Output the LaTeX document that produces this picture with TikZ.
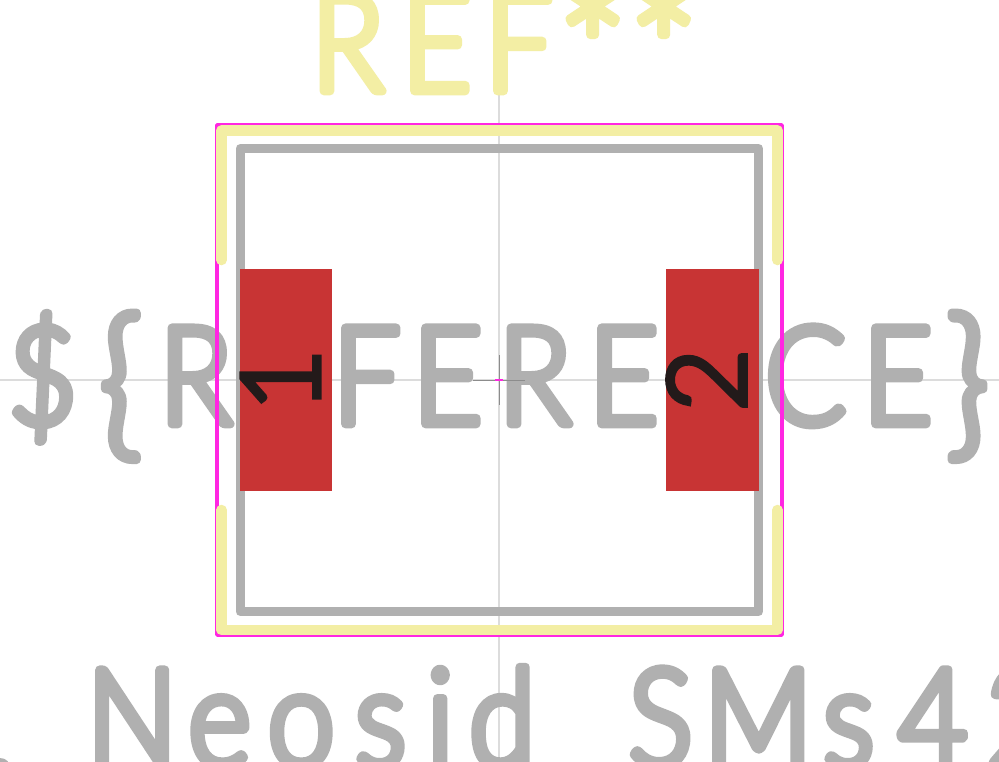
\documentclass[tikz,border=0pt]{standalone}
\usepackage{fontspec}
\newfontfamily\kfont[UprightFont=* Light,FakeStretch=0.88]{Lato}
\newfontfamily\pfont[UprightFont=* Light]{Lato}
\definecolor{fabgray}{HTML}{B0B0B0}
\definecolor{silk}{HTML}{F3EEA4}
\definecolor{court}{HTML}{FF26E2}
\definecolor{padred}{HTML}{C83434}
\definecolor{numblack}{HTML}{231A1A}
\definecolor{hair}{HTML}{DCDCDC}
\newcommand\strk[1]{\special{pdf:literal direct 1 J 1 j #1 w 2 Tr}}
\newcommand\strkb[1]{\special{pdf:literal direct 0 J 0 j #1 w 2 Tr}}
\newcommand\gl[2]{\rlap{\kern#1pt\hbox to 0pt{\hss#2\hss}}}
\newcommand\bigch[3]{\raisebox{#2pt}{\fontsize{#1}{#1}\selectfont #3}}
\tikzset{
  strokeText/.style={inner sep=0pt,anchor=base west,font=\kfont\fontsize{136}{136}\selectfont},
  pad/.style={fill=padred,draw=none,inner sep=0pt,minimum width=92.5pt,minimum height=222pt},
  padnum/.style={inner sep=0pt,text=numblack,rotate=90,font=\pfont\fontsize{108}{108}\selectfont},
  silkline/.style={draw=silk,line width=10.5pt,line cap=round,line join=round},
  fabline/.style={draw=fabgray,line width=9pt,line join=round},
  courtline/.style={draw=court,line width=3.5pt,line join=round},
  hairline/.style={draw=hair,line width=1.3pt}
}
\begin{document}
\begin{tikzpicture}[x=1pt,y=-1pt]
\clip (0,0) rectangle (999,761);
\fill[white] (0,0) rectangle (999,761);
\coordinate (vt) at (499,0); \coordinate (vb) at (499,761);
\coordinate (hl) at (0,380); \coordinate (hr) at (999,380);
\draw[hairline] (vt) -- (vb);
\draw[hairline] (hl) -- (hr);
\node[strokeText,text=fabgray] (value) at (0,424) {\strk{8.6}\gl{42}{\$}\gl{120}{\bigch{165}{-14}{\{}}\gl{195}{R}\gl{284}{E}\gl{366}{F}\gl{447}{E}\gl{534}{R}\gl{623}{E}\gl{711}{N}\gl{805}{C}\gl{897}{E}\gl{967}{\bigch{165}{-14}{\}}}};
\node[strokeText,text=fabgray] (fpname) at (0,766) {\strk{8.6}\gl{0}{\raisebox{-8pt}{.}}\gl{131.5}{N}\gl{219}{e}\gl{300.5}{o}\gl{380}{s}\gl{439.5}{i}\gl{501.5}{d}\gl{660}{S}\gl{757.5}{M}\gl{848}{s}\gl{932}{4}\gl{1020}{2}};
\node[strokeText,text=silk] (ref) at (0,91) {\strk{8.6}\gl{347}{R}\gl{436}{E}\gl{518}{F}\gl{592}{\bigch{190}{-29}{*}}\gl{663}{\bigch{190}{-29}{*}}};
\draw[fabline] (240,148.5) rectangle (758.5,611.5);
\draw[courtline] (217,125) rectangle (782,635);
\draw[silkline] (221.5,260) -- (221.5,130.5) -- (777.5,130.5) -- (777.5,260);
\draw[silkline] (221.5,510) -- (221.5,630) -- (777.5,630) -- (777.5,510);
\node[pad] (p1) at (286,380) {};
\node[pad] (p2) at (712.25,380) {};
\node[padnum] (n1) at (280.5,380) {\strkb{5.5}1};
\node[padnum] (n2) at (706.5,380) {\strkb{5.5}2};
\draw[draw=gray!90,line width=1pt] (473,380) -- (525,380);
\draw[draw=gray!90,line width=1pt] (499,355) -- (499,405);
\draw[draw=court,line width=1.5pt] (495,380) -- (503,380);
\end{tikzpicture}
\end{document}
